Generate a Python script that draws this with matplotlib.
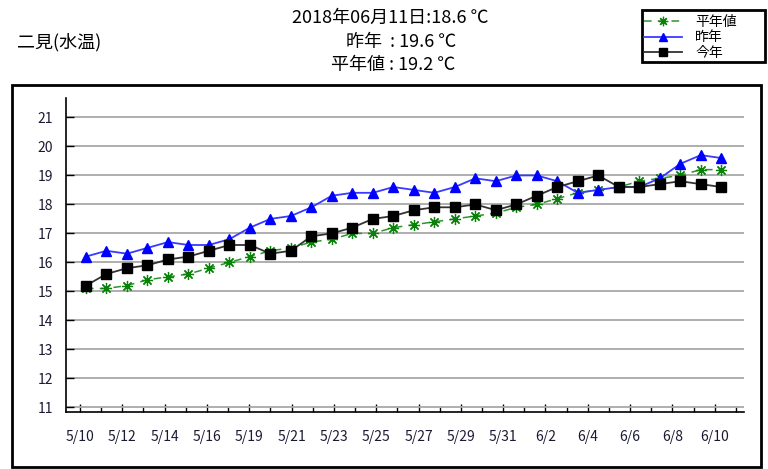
import matplotlib
matplotlib.use('Agg')
import matplotlib.pyplot as plt
import numpy as np
from matplotlib.patches import Rectangle

plt.rcParams['font.family'] = ['Noto Sans CJK JP', 'DejaVu Sans']

# 日付（5/17 or 5/18 が一日欠けている）
dates = ['5/10', '5/11', '5/12', '5/13', '5/14', '5/15', '5/16', '5/18',
         '5/19', '5/20', '5/21', '5/22', '5/23', '5/24', '5/25', '5/26',
         '5/27', '5/28', '5/29', '5/30', '5/31', '6/1', '6/2', '6/3',
         '6/4', '6/5', '6/6', '6/7', '6/8', '6/9', '6/10', '6/11']

heinen = [15.1, 15.1, 15.2, 15.4, 15.5, 15.6, 15.8, 16.0, 16.2, 16.4, 16.5,
          16.7, 16.8, 17.0, 17.0, 17.2, 17.3, 17.4, 17.5, 17.6, 17.7, 17.9,
          18.0, 18.2, 18.4, 18.5, 18.6, 18.8, 18.9, 19.0, 19.2, 19.2]
sakunen = [16.2, 16.4, 16.3, 16.5, 16.7, 16.6, 16.6, 16.8, 17.2, 17.5, 17.6,
           17.9, 18.3, 18.4, 18.4, 18.6, 18.5, 18.4, 18.6, 18.9, 18.8, 19.0,
           19.0, 18.8, 18.4, 18.5, 18.6, 18.6, 18.9, 19.4, 19.7, 19.6]
kotoshi = [15.2, 15.6, 15.8, 15.9, 16.1, 16.2, 16.4, 16.6, 16.6, 16.3, 16.4,
           16.9, 17.0, 17.2, 17.5, 17.6, 17.8, 17.9, 17.9, 18.0, 17.8, 18.0,
           18.3, 18.6, 18.8, 19.0, 18.6, 18.6, 18.7, 18.8, 18.7, 18.6]

station = '二見(水温)'
head_lines = ['2018年06月11日:18.6 ℃', '昨年  : 19.6 ℃', '平年値 : 19.2 ℃']
yticks = list(range(11, 22))

x = np.arange(len(dates))
xlabels = dates[::2]

fig = plt.figure(figsize=(7.68, 4.69), dpi=100)
ax = fig.add_axes([0.0855, 0.121, 0.883, 0.670])

ax.plot(x, heinen, color='#2e952e', linestyle=(0, (5, 4)), lw=1.1,
        marker=(8, 2, 0), markersize=8, markeredgewidth=0.9,
        markeredgecolor='#0a820a', label='平年値', zorder=3)
ax.plot(x, sakunen, color='#3a3aff', lw=1.3, marker='^', markersize=7,
        markerfacecolor='#0000ff', markeredgecolor='#0000ff',
        label='昨年', zorder=4)
ax.plot(x, kotoshi, color='#333333', lw=1.3, marker='s', markersize=7.5,
        markerfacecolor='black', markeredgecolor='black',
        label='今年', zorder=5)

# 目盛りは点の位置から少しずれている
step = 1.0325
x0 = -0.293
minor_pos = x0 + step * np.arange(len(dates))
ax.set_xticks(minor_pos[::2])
ax.set_xticklabels(xlabels)
ax.set_xticks(minor_pos, minor=True)
ax.set_xlim(-0.99, 32.1)

ax.set_ylim(10.83, 21.67)
ax.set_yticks(yticks)
ax.yaxis.grid(True, color='#a8a8a8', lw=1.3)
ax.set_axisbelow(True)

for s in ['top', 'right']:
    ax.spines[s].set_visible(False)
for s in ['left', 'bottom']:
    ax.spines[s].set_linewidth(1.2)

ax.tick_params(axis='x', which='major', direction='in', length=6, width=1,
               pad=13, labelsize=10, labelcolor='#1a1a33')
ax.tick_params(axis='x', which='minor', direction='in', length=3.3, width=1)
ax.tick_params(axis='y', direction='in', length=5.5, width=1, pad=9,
               labelsize=10, labelcolor='#1a1a33')

# 外枠
fig.patches.append(Rectangle((0.0156, 0.0043), 0.975, 0.8145,
                             transform=fig.transFigure, fill=False,
                             edgecolor='black', lw=2, zorder=0))

fig.text(17 / 768, 1 - 42 / 469, station, fontsize=13, va='center', ha='left')
fig.text(390 / 768, 1 - 18 / 469, head_lines[0], fontsize=13, ha='center', va='center')
fig.text(401 / 768, 1 - 42 / 469, head_lines[1], fontsize=13, ha='center', va='center')
fig.text(393 / 768, 1 - 65 / 469, head_lines[2], fontsize=13, ha='center', va='center')

# 凡例（枠は別に描く）
leg = fig.legend(loc='upper left', bbox_to_anchor=(644 / 768, 1 - 15 / 469),
                 fontsize=10, frameon=False, handlelength=2.7,
                 handletextpad=1.0, labelspacing=0.1, borderpad=0,
                 borderaxespad=0, markerscale=0.85)
fig.patches.append(Rectangle((642 / 768, 1 - 62 / 469), 123 / 768, 52 / 469,
                             transform=fig.transFigure, fill=False,
                             edgecolor='black', lw=2, zorder=0))

fig.savefig('out.png', dpi=100)
